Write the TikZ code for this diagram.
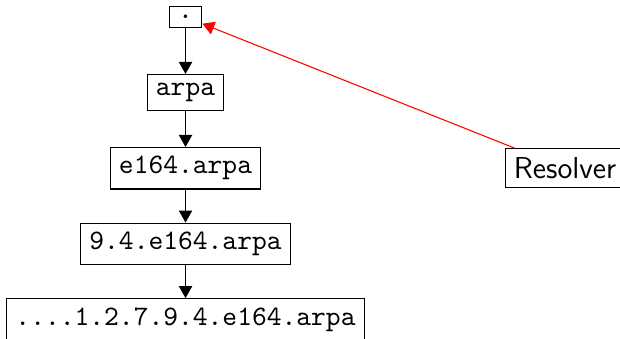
\documentclass[tikz,border=0pt]{standalone}
\usepackage{tikz}
\usetikzlibrary{arrows.meta}

\begin{document}
\begin{tikzpicture}[
    x=1cm,y=1cm,
    zone/.style={draw, font=\fontsize{10.6}{12.7}\selectfont\ttfamily},
    client/.style={draw, font=\fontsize{11.4}{13.6}\selectfont\sffamily},
    >={Triangle[width=5pt,length=4.5pt]}
    ]
    \useasboundingbox (-2.454,-4.246) rectangle (5.747,0.225);
    \node[zone] (root) at (0, 0) {.};
    \node[zone] (arpa) at (0, -1) {arpa};
    \node[zone] (e164) at (0, -2) {e164.arpa};
    \node[zone] (cc) at (0, -3) {9.4.e164.arpa};
    \node[zone] (number) at (0, -4) {....1.2.7.9.4.e164.arpa};
    \node[client] (resolver) at (5.02, -2) {Resolver};
    \draw[->] (root) -- (arpa);
    \draw[->] (arpa) -- (e164);
    \draw[->] (e164) -- (cc);
    \draw[->] (cc) -- (number);
    \draw[->, red] (resolver) -- (root);
  \end{tikzpicture}
\end{document}
